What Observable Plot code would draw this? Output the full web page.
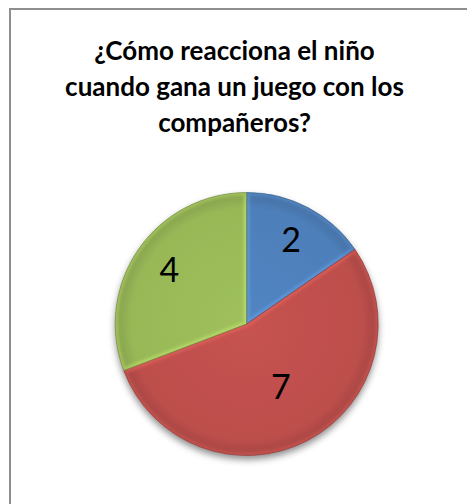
<!DOCTYPE html>
<html><head><meta charset="utf-8">
<script src="https://cdn.jsdelivr.net/npm/d3@7"></script>
<script src="https://cdn.jsdelivr.net/npm/@observablehq/plot@0.6"></script>
<style>
html,body{margin:0;padding:0;background:#fff;}
body{width:467px;height:504px;overflow:hidden;position:relative;font-family:Lato,"Open Sans",sans-serif;}
#frame{position:absolute;left:9px;top:8px;width:520px;height:540px;border-left:2px solid #8e8e8e;border-top:2px solid #8e8e8e;}
#title{position:absolute;left:0;width:469px;top:32px;text-align:center;font-weight:bold;font-size:26px;line-height:36px;color:#000;}
#chart{position:absolute;left:0;top:150px;}
</style></head><body>
<div id="frame"></div>
<div id="title">¿Cómo reacciona el niño<br>cuando gana un juego con los<br>compañeros?</div>
<div id="chart"></div>
<script>
// Data
const categories = ["Categoría 1", "Categoría 2", "Categoría 3"];
const values = [2, 7, 4];
const colors = ["#4f81bd", "#c0504d", "#9bbb59"];

const rows = categories.map((c, i) => ({category: c, value: values[i], color: colors[i]}));
const arcs = d3.pie().sort(null).value(d => d.value)(rows);
const labels = arcs.map(a => {
  const m = (a.startAngle + a.endAngle) / 2;
  const rr = (a.endAngle - a.startAngle) > Math.PI ? 0.55 : 0.72;
  return {value: a.data.value, lx: rr * Math.sin(m), ly: rr * Math.cos(m)};
});

function slices(index, scales) {
  const {x, y} = scales;
  const cx = x(0), cy = y(0), r = Math.abs(x(1) - x(0));
  const arc = d3.arc().innerRadius(0).outerRadius(r);
  const g = d3.create("svg:g");
  const defs = g.append("defs");
  const f = defs.append("filter").attr("id", "shadow").attr("x", "-20%").attr("y", "-20%").attr("width", "140%").attr("height", "140%");
  f.append("feDropShadow").attr("dx", 0).attr("dy", 4).attr("stdDeviation", 3.5).attr("flood-color", "#000").attr("flood-opacity", 0.45);
  const blur = defs.append("filter").attr("id", "soft");
  blur.append("feGaussianBlur").attr("stdDeviation", 1.5);
  arcs.forEach((a, i) => {
    const c = d3.color(a.data.color);
    const gr = defs.append("radialGradient").attr("id", "g" + i)
      .attr("gradientUnits", "userSpaceOnUse").attr("cx", 0).attr("cy", 0).attr("r", r);
    gr.append("stop").attr("offset", "0%").attr("stop-color", c.brighter(0.08));
    gr.append("stop").attr("offset", "88%").attr("stop-color", c.darker(0.05));
    gr.append("stop").attr("offset", "96%").attr("stop-color", c.darker(0.3));
    gr.append("stop").attr("offset", "100%").attr("stop-color", c.darker(0.7));
    defs.append("clipPath").attr("id", "c" + i).append("path").attr("d", arc(a));
  });
  const pie = g.append("g").attr("transform", `translate(${cx},${cy})`);
  const shadowed = pie.append("g").attr("filter", "url(#shadow)");
  arcs.forEach((a, i) => {
    shadowed.append("path").attr("d", arc(a)).attr("fill", `url(#g${i})`);
  });
  arcs.forEach((a, i) => {
    const c = d3.color(a.data.color);
    const sg = pie.append("g").attr("clip-path", `url(#c${i})`);
    sg.append("path").attr("d", arc(a)).attr("fill", "none")
      .attr("stroke", c.brighter(0.9)).attr("stroke-opacity", 0.4).attr("stroke-width", 6).attr("filter", "url(#soft)");
    pie.append("path").attr("d", arc(a)).attr("fill", "none")
      .attr("stroke", c.darker(0.9)).attr("stroke-width", 0.8).attr("stroke-opacity", 0.8);
  });
  return g.node();
}

const chart = Plot.plot({
  width: 467,
  height: 354,
  margin: 0,
  style: {background: "transparent", overflow: "visible"},
  x: {domain: [-1, 1], range: [115.2, 378.2], axis: null},
  y: {domain: [-1, 1], range: [305.5, 42.5], axis: null},
  marks: [
    slices,
    Plot.text(labels, {x: "lx", y: "ly", text: d => String(d.value), fontSize: 34, fontFamily: "Lato", fill: "#000"})
  ]
});
document.getElementById("chart").appendChild(chart);
</script>
</body></html>
